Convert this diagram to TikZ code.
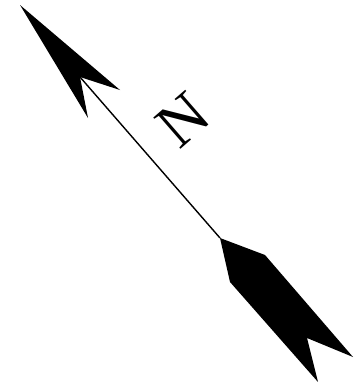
\documentclass[tikz,border=0pt]{standalone}
\usepackage{fontspec}
\setmainfont{Liberation Serif}
\begin{document}
\begin{tikzpicture}[x=0.02cm, y=-0.02cm]
    \useasboundingbox (0, 0) rectangle (360, 382);
    \coordinate (tip) at (20, 5);
    \coordinate (notch) at (80, 77);
    \coordinate (tail) at (220, 238);
    % head
    \fill (tip) -- (120, 90) -- (notch) -- (88, 118) -- cycle;
    \draw[line width=0.8pt] (notch) -- (tail);
    % feathers
    \fill (tail) -- (265, 255) -- (353, 357) -- (307, 338) -- (318, 382) -- (230, 282) -- cycle;
    \node[rotate=41, font=\fontsize{36}{36}\selectfont] (N) at (183, 120) {N};
\end{tikzpicture}
\end{document}
